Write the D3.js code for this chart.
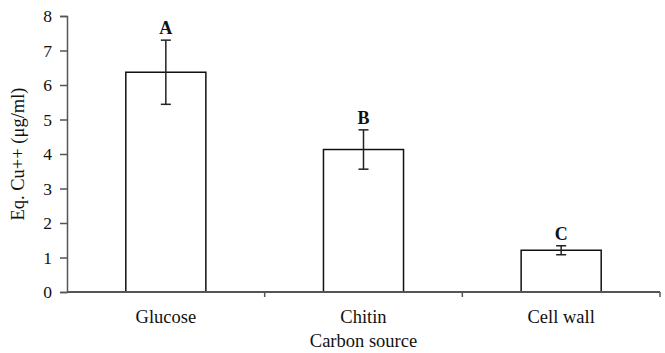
<!DOCTYPE html>
<html>
<head>
<meta charset="utf-8">
<script src="https://cdn.jsdelivr.net/npm/d3@7"></script>
<style>
body { margin: 0; background: #fff; }
text { font-family: "Liberation Serif", "Times New Roman", serif; fill: #111; }
</style>
</head>
<body>
<div id="chart"></div>
<script>
// data
var categories = ["Glucose", "Chitin", "Cell wall"];
var means = [6.37, 4.13, 1.21];
var errors = [0.93, 0.57, 0.13];
var letters = ["A", "B", "C"];
var yTicks = [0, 1, 2, 3, 4, 5, 6, 7, 8];

var width = 665, height = 353;
var margin = {left: 67, right: 5, top: 16, bottom: 61};

var svg = d3.select("#chart")
  .append("svg")
    .attr("width", width)
    .attr("height", height);

var x = d3.scaleBand()
  .domain(categories)
  .range([margin.left, width - margin.right])
  .paddingInner(0.595)
  .paddingOuter(0.2975);

var y = d3.scaleLinear()
  .domain([0, 8])
  .range([height - margin.bottom, margin.top]);

var axisColor = "#555";

// bars
svg.selectAll("rect.bar")
  .data(categories)
  .enter().append("rect")
    .attr("class", "bar")
    .attr("x", function(d) { return x(d); })
    .attr("y", function(d, i) { return y(means[i]); })
    .attr("width", x.bandwidth())
    .attr("height", function(d, i) { return y(0) - y(means[i]); })
    .style("fill", "#fff")
    .style("stroke", "#111")
    .style("stroke-width", 1.5);

// error bars
var eb = svg.selectAll("g.err")
  .data(categories)
  .enter().append("g")
    .attr("class", "err")
    .attr("transform", function(d) { return "translate(" + (x(d) + x.bandwidth() / 2) + ",0)"; });

eb.append("line")
  .attr("y1", function(d, i) { return y(means[i] + errors[i]); })
  .attr("y2", function(d, i) { return y(means[i] - errors[i]); })
  .style("stroke", "#222").style("stroke-width", 1.5);
eb.append("line")
  .attr("x1", -5).attr("x2", 5)
  .attr("y1", function(d, i) { return y(means[i] + errors[i]); })
  .attr("y2", function(d, i) { return y(means[i] + errors[i]); })
  .style("stroke", "#222").style("stroke-width", 1.5);
eb.append("line")
  .attr("x1", -5).attr("x2", 5)
  .attr("y1", function(d, i) { return y(means[i] - errors[i]); })
  .attr("y2", function(d, i) { return y(means[i] - errors[i]); })
  .style("stroke", "#222").style("stroke-width", 1.5);

// significance letters
eb.append("text")
  .attr("y", function(d, i) { return y(means[i] + errors[i]) - 6; })
  .attr("text-anchor", "middle")
  .attr("font-size", 18)
  .attr("font-weight", "bold")
  .text(function(d, i) { return letters[i]; });

// y axis
var yAxis = svg.append("g")
  .attr("transform", "translate(" + margin.left + ",0)")
  .call(d3.axisLeft(y).tickValues(yTicks).tickSize(7).tickPadding(8));
yAxis.select(".domain").attr("stroke", axisColor).attr("stroke-width", 1.5);
yAxis.selectAll(".tick line").attr("stroke", axisColor).attr("stroke-width", 1.5);
yAxis.selectAll(".tick text")
  .attr("font-size", 17.5)
  .attr("font-family", "Liberation Serif, serif")
  .attr("fill", "#111");

// x axis: ticks at the category boundaries
var xAxisG = svg.append("g")
  .attr("transform", "translate(0," + y(0) + ")");
xAxisG.append("line")
  .attr("x1", margin.left).attr("x2", width - margin.right)
  .attr("stroke", axisColor).attr("stroke-width", 2);
var step = x.step();
var bounds = categories.map(function(d) { return x(d) - x.paddingOuter() * step + step; });
xAxisG.selectAll("line.tk")
  .data(bounds)
  .enter().append("line")
    .attr("class", "tk")
    .attr("x1", function(d) { return d; })
    .attr("x2", function(d) { return d; })
    .attr("y1", 0).attr("y2", 5)
    .attr("stroke", axisColor).attr("stroke-width", 1.5);
xAxisG.selectAll("text.cat")
  .data(categories)
  .enter().append("text")
    .attr("class", "cat")
    .attr("x", function(d) { return x(d) + x.bandwidth() / 2; })
    .attr("y", 31)
    .attr("text-anchor", "middle")
    .attr("font-size", 18.5)
    .text(function(d) { return d; });

// axis titles
svg.append("text")
  .attr("x", (margin.left + width - margin.right) / 2)
  .attr("y", 347)
  .attr("text-anchor", "middle")
  .attr("font-size", 18.5)
  .text("Carbon source");

svg.append("text")
  .attr("transform", "translate(24,154) rotate(-90)")
  .attr("text-anchor", "middle")
  .attr("font-size", 18.5)
  .text("Eq. Cu++ (μg/ml)");
</script>
</body>
</html>
